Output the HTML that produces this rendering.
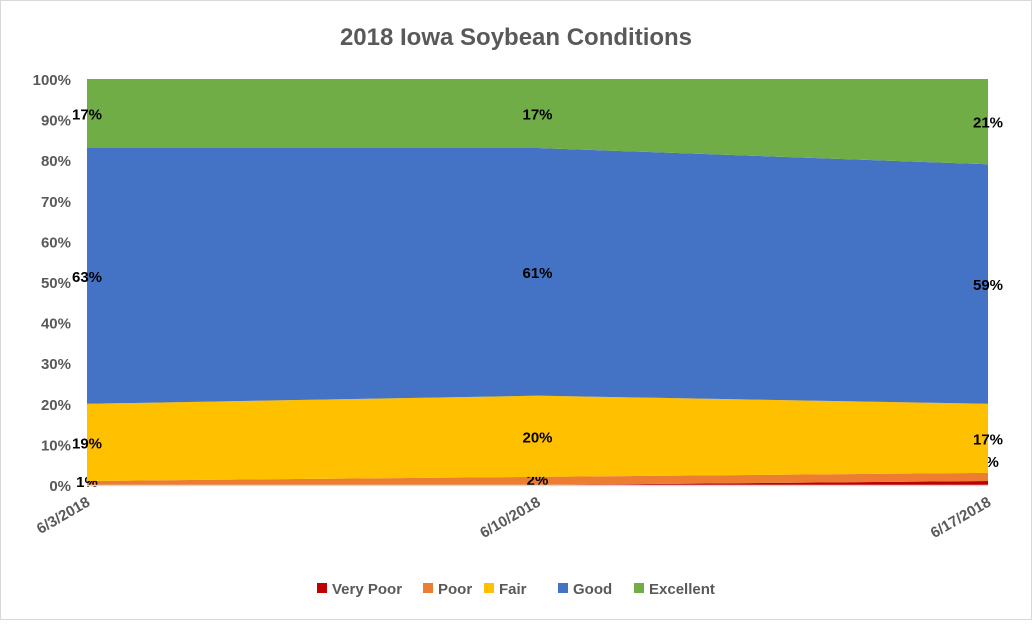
<!DOCTYPE html>
<html><head><meta charset="utf-8"><style>
body{margin:0;background:#fff}
svg text{font-family:"Liberation Sans",sans-serif}
</style></head><body>
<svg id="c" width="1032" height="620" xmlns="http://www.w3.org/2000/svg">
<rect x="0.5" y="0.5" width="1031" height="619" fill="#fff" stroke="#d9d9d9"/>
<text x="516" y="45" text-anchor="middle" font-size="24" font-weight="bold" fill="#595959">2018 Iowa Soybean Conditions</text>
<g id="plot"></g>
</svg>
<script>
const dates=["6/3/2018","6/10/2018","6/17/2018"];
const seriesNames=["Very Poor","Poor","Fair","Good","Excellent"];
const veryPoor=[0,0,1];
const poor=[1,2,2];
const fair=[19,20,17];
const good=[63,61,59];
const excellent=[17,17,21];
const yTicks=[0,10,20,30,40,50,60,70,80,90,100];
const colors=["#c00000","#ed7d31","#ffc000","#4472c4","#70ad47"];
const ns="http://www.w3.org/2000/svg";
const g=document.getElementById('plot');
const x0=87,x1=988,y0=485,y1=79;
const xs=i=>x0+(x1-x0)*i/(dates.length-1);
const ys=v=>y0-(y0-y1)*v/100;
function mk(t,a){const e=document.createElementNS(ns,t);for(const k in a)e.setAttribute(k,a[k]);g.appendChild(e);return e;}
const series=[veryPoor,poor,fair,good,excellent];
let base=dates.map(()=>0);
series.forEach((s,si)=>{
  const top=s.map((v,i)=>base[i]+v);
  let pts=top.map((v,i)=>xs(i)+","+ys(v));
  for(let i=dates.length-1;i>=0;i--)pts.push(xs(i)+","+ys(base[i]));
  const p=mk('polygon',{points:pts.join(' '),fill:colors[si]});
  
  
  if(si>0){
    s.forEach((v,i)=>{
      let y=ys(base[i]+v/2)+6;
      if(si===1&&i===2)y=ys(base[i]+v)-6;
      if(si===1&&i!==2)y=ys(base[i]+v/2)+4;
      const t=mk('text',{x:xs(i),y:y,'text-anchor':'middle','font-size':15,'font-weight':'bold',fill:'#000'});
      t.textContent=v+'%';
      
      
    });
  }
  base=top;
});
const ax=mk('line',{x1:x0,x2:x1,y1:y0+0.5,y2:y0+0.5,stroke:'#d9d9d9','stroke-width':1.5});


yTicks.forEach(v=>{
  const t=mk('text',{x:71,y:ys(v)+6,'text-anchor':'end','font-size':15,'font-weight':'bold',fill:'#595959'});
  t.textContent=v+'%';
  
  
});
dates.forEach((d,i)=>{
  const x=xs(i)+4,y=y0+20;
  const t=mk('text',{x:x,y:y,'text-anchor':'end','font-size':15,'font-weight':'bold',fill:'#595959',transform:`rotate(-30 ${x} ${y})`});
  t.textContent=d;
  
  
});
const lx=[317,423,484,558,634];
seriesNames.forEach((n,i)=>{
  const r=mk('rect',{x:lx[i],y:583,width:10,height:10,fill:colors[i]});
  
  
  const t=mk('text',{x:lx[i]+15,y:594,'font-size':15,'font-weight':'bold',fill:'#595959'});
  t.textContent=n;
  
  
});
</script>
</body></html>
